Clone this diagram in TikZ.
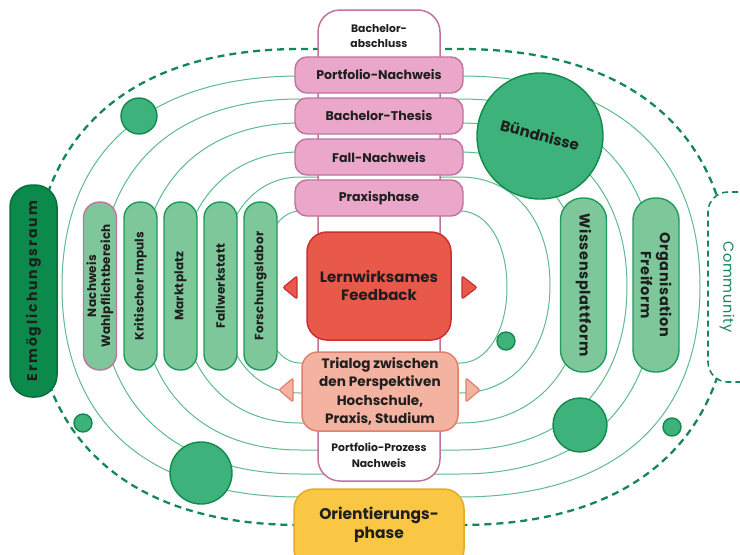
\documentclass[tikz,border=0pt]{standalone}
\usepackage{fontspec}
\setmainfont{Poppins}
\definecolor{txt}{HTML}{1E1E1E}
\definecolor{orb}{HTML}{5DBB8E}
\definecolor{dash}{HTML}{14875A}
\definecolor{dkgreen}{HTML}{0B8A4B}
\definecolor{dkgreenb}{HTML}{06703C}
\definecolor{circf}{HTML}{3DB27A}
\definecolor{circb}{HTML}{118A4E}
\definecolor{pillf}{HTML}{7EC79B}
\definecolor{pillb}{HTML}{1E9A5A}
\definecolor{pinkf}{HTML}{EAA7CA}
\definecolor{pinkb}{HTML}{C0739E}
\definecolor{redf}{HTML}{E8594A}
\definecolor{redb}{HTML}{C92F33}
\definecolor{salf}{HTML}{F4B3A0}
\definecolor{salb}{HTML}{E0806F}
\definecolor{orf}{HTML}{F9C744}
\definecolor{orb2}{HTML}{E5A92B}
% stadium-like orbit: #1 xl, #2 xr, #3 left, #4 right, #5 top, #6 bottom, #7 k, #8 style
\newcommand{\mystad}[8]{%
  \pgfmathsetmacro{\cy}{(#5+#6)/2}%
  \pgfmathsetmacro{\bt}{\cy-#5}%
  \pgfmathsetmacro{\bb}{#6-\cy}%
  \draw[#8] (#3,\cy) .. controls (#3,{\cy-#7*\bt}) and ({#1-#7*(#1-#3)},#5) .. (#1,#5)
    -- (#2,#5) .. controls ({#2+#7*(#4-#2)},#5) and (#4,{\cy-#7*\bt}) .. (#4,\cy)
    .. controls (#4,{\cy+#7*\bb}) and ({#2+#7*(#4-#2)},#6) .. (#2,#6)
    -- (#1,#6) .. controls ({#1-#7*(#1-#3)},#6) and (#3,{\cy+#7*\bb}) .. (#3,\cy) -- cycle;}
\tikzset{
  orbitline/.style={draw=orb, line width=1pt},
  outerdash/.style={draw=dash, line width=2.3pt, dash pattern=on 7pt off 5pt},
  lbl/.style={text=txt, font=\fontsize{12.6}{15}\selectfont\bfseries, align=center, inner sep=0pt},
  pinkbox/.style={rectangle, rounded corners=12pt, fill=pinkf, draw=pinkb, line width=1.4pt, minimum width=168pt, minimum height=36pt, lbl},
  lpill/.style={rectangle, rounded corners=16pt, fill=pillf, draw=pillb, line width=1.4pt, minimum width=168pt, minimum height=33pt, lbl, font=\fontsize{12}{14}\selectfont\bfseries\addfontfeature{LetterSpace=2}, rotate=90},
  rpill/.style={rectangle, rounded corners=22pt, fill=pillf, draw=pillb, line width=1.4pt, minimum width=174pt, minimum height=46pt, lbl, font=\fontsize{14.5}{19}\selectfont\bfseries\addfontfeature{LetterSpace=4}, rotate=-90},
  dot/.style={circle, fill=circf, draw=circb, line width=1.4pt, inner sep=0pt},
  tri/.style={line width=1.2pt, rounded corners=2pt}
}
\begin{document}
\begin{tikzpicture}[x=1pt,y=-1pt]
\useasboundingbox (0,0) rectangle (740,555);
\clip (0,0) rectangle (740,555);
\fill[white] (0,0) rectangle (740,555);
% outer dashed boundary
\mystad{300}{460}{33}{731}{49}{525}{0.64}{outerdash}
% orbits
\mystad{300}{460}{62}{700}{76}{497}{0.64}{orbitline}
\mystad{300}{460}{100}{656}{99}{474}{0.63}{orbitline}
\mystad{300}{460}{140}{627}{123}{450}{0.62}{orbitline}
\mystad{300}{460}{180}{583}{152}{423}{0.61}{orbitline}
\mystad{300}{460}{220}{550}{177}{393}{0.6}{orbitline}
\mystad{300}{460}{260}{507}{211}{363}{0.58}{orbitline}
% central column
\node[rectangle, rounded corners=22pt, fill=white, draw=pinkb, line width=1.5pt, minimum width=122pt, minimum height=471pt] (col) at (379,245.5) {};
\node[lbl, font=\fontsize{10.8}{15.5}\selectfont\bfseries] (ba) at (379,36) {Bachelor-\\abschluss};
\node[lbl, font=\fontsize{10.8}{15.5}\selectfont\bfseries] (ppn) at (379,455) {Portfolio-Prozess\\Nachweis};
% pink boxes
\node[pinkbox] (pn) at (379,75) {Portfolio-Nachweis};
\node[pinkbox] (bt) at (379,116) {Bachelor-Thesis};
\node[pinkbox] (fn) at (379,157) {Fall-Nachweis};
\node[pinkbox] (pp) at (379,198) {Praxisphase};
% triangles
\draw[tri, fill=redf, draw=redb] (297,276) -- (283,287.5) -- (297,299) -- cycle;
\draw[tri, fill=redf, draw=redb] (462,276) -- (477,287.5) -- (462,299) -- cycle;
\draw[tri, fill=salf, draw=salb] (293,378) -- (279,390) -- (293,402) -- cycle;
\draw[tri, fill=salf, draw=salb] (466,378) -- (480,390) -- (466,402) -- cycle;
% feedback & trialog
\node[rectangle, rounded corners=20pt, fill=redf, draw=redb, line width=1.5pt, minimum width=144pt, minimum height=108pt, lbl, font=\fontsize{15}{18}\selectfont\bfseries] (fb) at (379,286) {Lernwirksames\\Feedback};
\node[rectangle, rounded corners=16pt, fill=salf, draw=salb, line width=1.5pt, minimum width=156pt, minimum height=79pt, lbl, font=\fontsize{13.6}{18.3}\selectfont\bfseries] (tr) at (380,391.5) {Trialog zwischen\\den Perspektiven\\Hochschule,\\Praxis, Studium};
% orientierungsphase
\node[rectangle, rounded corners=20pt, fill=orf, draw=orb2, line width=1.5pt, minimum width=170pt, minimum height=80pt] (or) at (379,529) {};
\node[lbl, font=\fontsize{15.5}{18.5}\selectfont\bfseries] (ort) at (379,525) {Orientierungs-\\phase};
% left side
\node[rectangle, rounded corners=22pt, fill=dkgreen, draw=dkgreenb, line width=1.5pt, minimum width=212pt, minimum height=47pt, lbl, font=\fontsize{14}{16}\selectfont\bfseries\addfontfeature{LetterSpace=14}, rotate=90] (er) at (33.5,291) {Ermöglichungsraum};
\node[lpill, draw=pinkb] (nw) at (100,286) {Nachweis\\Wahlpflichtbereich};
\node[lpill] (ki) at (140.5,286) {Kritischer Impuls};
\node[lpill] (mp) at (180.5,286) {Marktplatz};
\node[lpill] (fw) at (220.5,286) {Fallwerkstatt};
\node[lpill] (fl) at (260.5,286) {Forschungslabor};
% right side
\node[rpill] (wp) at (583.5,285) {Wissensplattform};
\node[rpill] (of) at (656,285) {Organisation\\Freiform};
\node[rectangle, rounded corners=20pt, fill=white, draw=dash, line width=1.6pt, dash pattern=on 6pt off 4pt, minimum width=70pt, minimum height=190pt] (cb) at (743,287) {};
\node[text=dash, font=\fontsize{14.5}{18}\selectfont\addfontfeature{LetterSpace=5}, rotate=-90, inner sep=0pt] (cm) at (727,287) {Community};
% circles
\node[dot, minimum size=126pt] (bu) at (540,136) {};
\node[lbl, font=\fontsize{15}{17}\selectfont\bfseries, rotate=-15] (but) at (540,135) {Bündnisse};
\node[dot, minimum size=36pt] (c1) at (139,116) {};
\node[dot, minimum size=18pt] (c2) at (83,423) {};
\node[dot, minimum size=62pt] (c3) at (201,473) {};
\node[dot, minimum size=54pt] (c4) at (580,425) {};
\node[dot, minimum size=18pt] (c5) at (672,427) {};
\node[dot, minimum size=18pt] (c6) at (506,341) {};
\end{tikzpicture}
\end{document}
